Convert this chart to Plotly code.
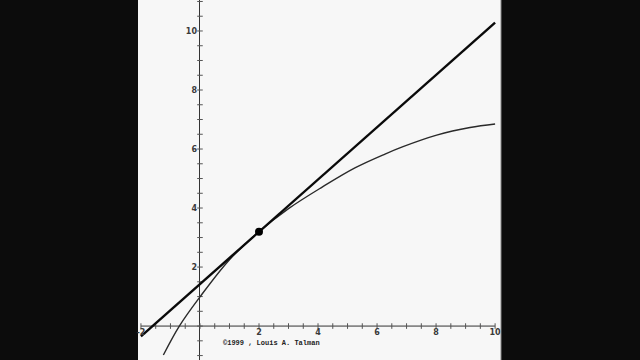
import plotly.graph_objects as go

# Data
curve_x = [-1.24, -0.70, 0.0, 1.0, 2.0, 3.0, 4.14, 5.25, 6.27, 6.88, 8.02, 9.15, 10.0]
curve_y = [-0.98, 0.0, 0.99, 2.25, 3.20, 3.98, 4.71, 5.36, 5.83, 6.08, 6.47, 6.73, 6.85]
tangent_x = [-2.0, 10.0]
tangent_y = [-0.35, 10.28]
point_x = [2.0]
point_y = [3.2]

x_axis_span = [-2.0, 10.0]
x_tick_minor = [i * 0.5 for i in range(-4, 21)]
y_tick_minor = [i * 0.5 for i in range(-2, 23)]
x_tick_labels = [-2, 2, 4, 6, 8, 10]
y_tick_labels = [2, 4, 6, 8, 10]
copyright_text = "\u00a91999 , Louis A. Talman"

x_range = [-2.10, 10.20]
y_range = [-1.15, 11.05]

fig = go.Figure()

# x axis line
fig.add_trace(go.Scatter(x=x_axis_span, y=[0, 0], mode="lines",
                         line=dict(color="#333333", width=1), hoverinfo="skip"))
# ticks
fig.add_trace(go.Scatter(x=x_tick_minor, y=[0] * len(x_tick_minor), mode="markers",
                         marker=dict(symbol="line-ns", size=4,
                                     line=dict(color="#555555", width=1)),
                         hoverinfo="skip"))
fig.add_trace(go.Scatter(x=[0] * len(y_tick_minor), y=y_tick_minor, mode="markers",
                         marker=dict(symbol="line-ew", size=4,
                                     line=dict(color="#555555", width=1)),
                         hoverinfo="skip"))

# curve
fig.add_trace(go.Scatter(x=curve_x, y=curve_y, mode="lines", line_shape="spline",
                         line=dict(color="#2a2a2a", width=1.4), hoverinfo="skip"))
# tangent line
fig.add_trace(go.Scatter(x=tangent_x, y=tangent_y, mode="lines",
                         line=dict(color="#0a0a0a", width=2.4), hoverinfo="skip"))
# point
fig.add_trace(go.Scatter(x=point_x, y=point_y, mode="markers",
                         marker=dict(color="#000000", size=8, symbol="circle"),
                         hoverinfo="skip"))

fig.add_annotation(x=0.72, y=-0.58, xref="x", yref="y", text="<b>" + copyright_text + "</b>",
                   showarrow=False, xanchor="left", yanchor="middle",
                   font=dict(family="Liberation Mono", size=7, color="#222222"))

y0_frac = (0 - y_range[0]) / (y_range[1] - y_range[0])
x0_frac = (0 - x_range[0]) / (x_range[1] - x_range[0])

tickfont = dict(family="DejaVu Sans", size=8, color="#3a3a3a", weight="bold")

fig.update_layout(
    width=640, height=360,
    margin=dict(l=138, r=139, t=0, b=0),
    paper_bgcolor="#0c0c0c",
    plot_bgcolor="#f7f7f7",
    showlegend=False,
    xaxis=dict(range=x_range, showgrid=False, zeroline=True, zerolinecolor="#333333",
               zerolinewidth=1, showline=False, anchor="free", position=y0_frac,
               tickvals=x_tick_labels, ticktext=[str(v) for v in x_tick_labels],
               ticks="", tickfont=tickfont),
    yaxis=dict(range=y_range, showgrid=False, zeroline=False, showline=False,
               anchor="free", position=x0_frac,
               tickvals=y_tick_labels, ticktext=[str(v) for v in y_tick_labels],
               ticks="", ticklabelstandoff=3, tickfont=tickfont),
    shapes=[dict(type="line", xref="paper", yref="paper", x0=1, x1=1, y0=0, y1=1,
                 line=dict(color="#888888", width=1))],
)

fig.write_html("out.html")
